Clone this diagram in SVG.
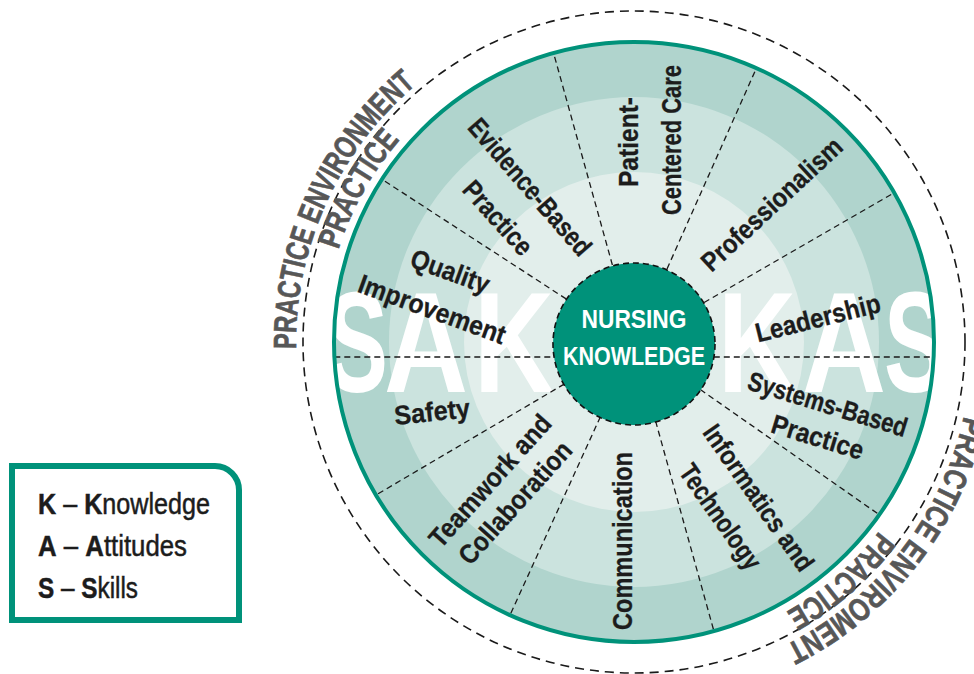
<svg xmlns="http://www.w3.org/2000/svg" width="974" height="674" viewBox="0 0 974 674">
<style>
.lbl{font-family:"Liberation Sans",Arial,sans-serif;font-weight:bold;font-size:27px;fill:#1c1c1c;stroke:#1c1c1c;stroke-width:0.3;text-anchor:middle}
.big{font-family:"Liberation Sans",Arial,sans-serif;font-weight:bold;font-size:142px;fill:#ffffff}
.env{font-family:"Liberation Sans",Arial,sans-serif;font-weight:bold;font-size:32px;fill:#575757;stroke:#575757;stroke-width:0.7}
.ctr{font-family:"Liberation Sans",Arial,sans-serif;font-weight:bold;font-size:25px;fill:#ffffff;text-anchor:middle}
.leg{font-family:"Liberation Sans",Arial,sans-serif;font-size:29px;fill:#1c1c1c;stroke:#1c1c1c;stroke-width:0.5}
.leg .b{font-weight:bold}
.div{stroke:#1a1a1a;stroke-width:1.3;stroke-dasharray:6 4;fill:none}
</style>
<defs>
<clipPath id="wheelClip"><circle cx="634" cy="342" r="299"/></clipPath>
<path id="arcUL" d="M 296.05 348.9 A 338 338 0 0 1 416.7 84.1"/>
<path id="arcULin" d="M 338.4 249.8 A 310 310 0 0 1 400.0 139.6"/>
<path id="arcLR" d="M 964.0 416.2 A 338 338 0 0 1 784.8 645.5"/>
<path id="arcLRin" d="M 879.2 531.1 A 309 309 0 0 1 786.1 612.0"/>
</defs>
<rect width="974" height="674" fill="#ffffff"/>

<g id="outer-dashed-ring">
<circle cx="634" cy="342" r="331" fill="none" stroke="#1a1a1a" stroke-width="1.6" stroke-dasharray="9 6"/>
</g>

<g id="wheel">
<circle cx="634" cy="342" r="300" fill="#b0d4cd"/>
<circle cx="634" cy="342" r="245" fill="#cbe3de"/>
<circle cx="634" cy="342" r="170" fill="#e2eeeb"/>
<g clip-path="url(#wheelClip)">
<text class="big" x="326" y="392" textLength="62" lengthAdjust="spacingAndGlyphs">S</text>
<text class="big" x="384" y="392" textLength="84" lengthAdjust="spacingAndGlyphs">A</text>
<text class="big" x="474" y="392" textLength="80" lengthAdjust="spacingAndGlyphs">K</text>
<text class="big" x="718" y="392" textLength="78" lengthAdjust="spacingAndGlyphs">K</text>
<text class="big" x="802" y="392" textLength="84" lengthAdjust="spacingAndGlyphs">A</text>
<text class="big" x="884" y="392" textLength="62" lengthAdjust="spacingAndGlyphs">S</text>
</g>
</g>

<g id="connectors">
<line class="div" x1="704.1" y1="302.5" x2="893.8" y2="193"/>
<line class="div" x1="667.0" y1="269.0" x2="756.0" y2="69.0"/>
<line class="div" x1="612.4" y1="265.0" x2="553.8" y2="53.9"/>
<line class="div" x1="566.1" y1="298.9" x2="382.4" y2="179.6"/>
<line class="div" x1="334.3" y1="357" x2="554.2" y2="357"/>
<line class="div" x1="713.8" y1="357" x2="933.7" y2="357"/>
<line class="div" x1="564.2" y1="384.1" x2="375.5" y2="495.3"/>
<line class="div" x1="600.4" y1="416.7" x2="509.6" y2="616.0"/>
<line class="div" x1="655.6" y1="421.1" x2="714.2" y2="632.1"/>
<line class="div" x1="700.3" y1="389.5" x2="879.8" y2="515.1"/>
</g>

<g id="wheel-rim">
<circle cx="634" cy="342" r="300" fill="none" stroke="#00927a" stroke-width="4"/>
</g>

<g id="nursing-knowledge">
<circle cx="634" cy="344" r="81" fill="#00927a" stroke="#111" stroke-width="1.6" stroke-dasharray="6 4"/>
<text class="ctr" x="634" y="328" textLength="105" lengthAdjust="spacingAndGlyphs">NURSING</text>
<text class="ctr" x="634" y="365" textLength="142" lengthAdjust="spacingAndGlyphs">KNOWLEDGE</text>
</g>

<g id="patient-centered-care">
<text class="lbl" transform="translate(638 142) rotate(-90)" textLength="90" lengthAdjust="spacingAndGlyphs">Patient-</text>
<text class="lbl" transform="translate(681 140) rotate(-90)" textLength="150" lengthAdjust="spacingAndGlyphs">Centered Care</text>
</g>
<g id="professionalism">
<text class="lbl" transform="translate(778 211) rotate(-43)" textLength="182" lengthAdjust="spacingAndGlyphs">Professionalism</text>
</g>
<g id="leadership">
<text class="lbl" transform="translate(820 327) rotate(-14)" textLength="128" lengthAdjust="spacingAndGlyphs">Leadership</text>
</g>
<g id="systems-based-practice">
<text class="lbl" transform="translate(825 413) rotate(17)" textLength="165" lengthAdjust="spacingAndGlyphs">Systems-Based</text>
<text class="lbl" transform="translate(815 446) rotate(17)" textLength="95" lengthAdjust="spacingAndGlyphs">Practice</text>
</g>
<g id="informatics-technology">
<text class="lbl" transform="translate(751 503) rotate(55)" textLength="172" lengthAdjust="spacingAndGlyphs">Informatics and</text>
<text class="lbl" transform="translate(713 522) rotate(55)" textLength="122" lengthAdjust="spacingAndGlyphs">Technology</text>
</g>
<g id="communication">
<text class="lbl" transform="translate(632 541) rotate(-90)" textLength="178" lengthAdjust="spacingAndGlyphs">Communication</text>
</g>
<g id="teamwork-collaboration">
<text class="lbl" transform="translate(497 487) rotate(-48)" textLength="168" lengthAdjust="spacingAndGlyphs">Teamwork and</text>
<text class="lbl" transform="translate(522 509) rotate(-48)" textLength="155" lengthAdjust="spacingAndGlyphs">Collaboration</text>
</g>
<g id="safety">
<text class="lbl" transform="translate(433 421) rotate(-6)" textLength="76" lengthAdjust="spacingAndGlyphs">Safety</text>
</g>
<g id="quality-improvement">
<text class="lbl" transform="translate(447 280) rotate(20)" textLength="82" lengthAdjust="spacingAndGlyphs">Quality</text>
<text class="lbl" transform="translate(429 318) rotate(20)" textLength="155" lengthAdjust="spacingAndGlyphs">Improvement</text>
</g>
<g id="evidence-based-practice">
<text class="lbl" transform="translate(523 193) rotate(49)" textLength="172" lengthAdjust="spacingAndGlyphs">Evidence-Based</text>
<text class="lbl" transform="translate(491 224) rotate(48)" textLength="90" lengthAdjust="spacingAndGlyphs">Practice</text>
</g>

<g id="practice-environment-upper">
<text class="env"><textPath href="#arcUL" textLength="300" lengthAdjust="spacingAndGlyphs">PRACTICE ENVIRONMENT</textPath></text>
<text class="env"><textPath href="#arcULin" textLength="127" lengthAdjust="spacingAndGlyphs">PRACTICE</textPath></text>
</g>
<g id="practice-environment-lower">
<text class="env"><textPath href="#arcLR" textLength="300" lengthAdjust="spacingAndGlyphs">PRACTICE ENVIROMENT</textPath></text>
<text class="env"><textPath href="#arcLRin" textLength="124" lengthAdjust="spacingAndGlyphs">PRACTICE</textPath></text>
</g>

<g id="legend">
<path d="M 12 466 H 215 A 24 24 0 0 1 239 490 V 620 H 12 Z" fill="#ffffff" stroke="#00927a" stroke-width="6"/>
<text class="leg" x="38" y="514" textLength="172" lengthAdjust="spacingAndGlyphs"><tspan class="b">K</tspan> – <tspan class="b">K</tspan>nowledge</text>
<text class="leg" x="38" y="556" textLength="149" lengthAdjust="spacingAndGlyphs"><tspan class="b">A</tspan> – <tspan class="b">A</tspan>ttitudes</text>
<text class="leg" x="38" y="598" textLength="100" lengthAdjust="spacingAndGlyphs"><tspan class="b">S</tspan> – <tspan class="b">S</tspan>kills</text>
</g>
</svg>
